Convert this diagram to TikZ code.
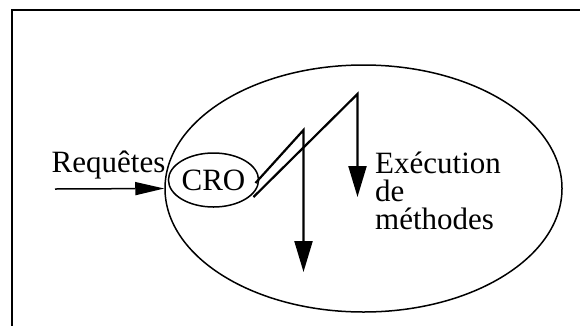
\documentclass[tikz,border=0pt]{standalone}
\usepackage{fontspec}
\setmainfont{Liberation Serif}
\usetikzlibrary{arrows.meta,shapes.geometric}
\begin{document}
\begin{tikzpicture}[x=1pt,y=-1pt,
  outline/.style={draw=black,line width=1.5pt},
  oval/.style={ellipse,outline,inner sep=0pt},
  zig/.style={draw=black,line width=2.2pt,line join=miter},
  bigtip/.style={-{Triangle[length=31pt,width=18pt]}},
  lbl/.style={font=\fontsize{31}{28}\selectfont,inner sep=0pt}]
\useasboundingbox (0,0) rectangle (580,325);
% frame (right and bottom edges lie outside the picture)
\draw[outline] (12,330) -- (12,10) -- (585,10);
% ellipses
\node[oval,minimum width=397pt,minimum height=247pt] (sys) at (363.5,188.5) {};
\node[oval,minimum width=86pt,minimum height=54pt,font=\fontsize{31}{28}\selectfont] (cro) at (213.5,180) {CRO};
% labels
\node[lbl,anchor=base west] (req) at (51.5,172.5) {Requêtes};
\node[lbl,anchor=base west,align=left] (exec) at (375,229) {Exécution\\de\\méthodes};
% incoming request
\coordinate (in) at (55,189);
\draw[line width=1.5pt,-{Triangle[length=29pt,width=13pt]}] (in) -- (sys.west);
% zigzag execution paths
\coordinate (s1) at (255.5,183);
\coordinate (s2) at (253.5,197);
\coordinate (t1) at (303.5,130);
\coordinate (e1) at (303.5,272);
\coordinate (t2) at (357.5,94);
\coordinate (e2) at (357.5,197);
\draw[zig,bigtip] (s1) -- (t1) -- (e1);
\draw[zig,bigtip] (s2) -- (t2) -- (e2);
\end{tikzpicture}
\end{document}
